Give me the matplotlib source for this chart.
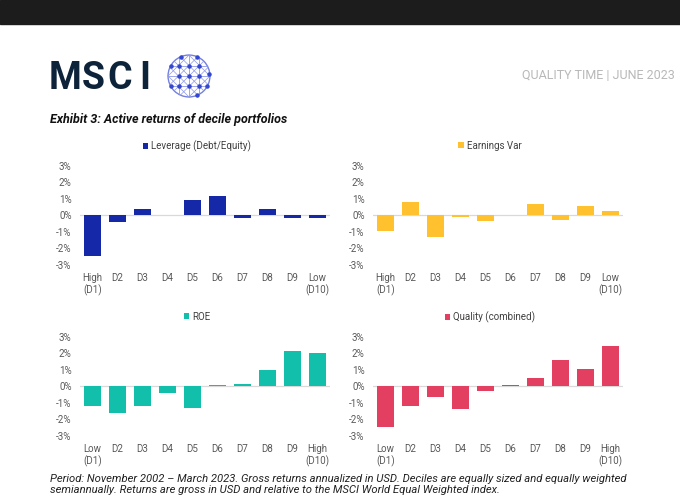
import numpy as np
import matplotlib
matplotlib.use("Agg")
import matplotlib.pyplot as plt
from matplotlib.patches import Rectangle, Circle

# decile active returns (%)
deciles_mid = ["D2", "D3", "D4", "D5", "D6", "D7", "D8", "D9"]
labels_high_low = ["High\n(D1)"] + deciles_mid + ["Low\n(D10)"]
labels_low_high = ["Low\n(D1)"] + deciles_mid + ["High\n(D10)"]

leverage = [-2.46, -0.38, 0.36, 0.0, 0.94, 1.18, -0.18, 0.36, -0.14, -0.14]
earnings_var = [-0.92, 0.82, -1.28, -0.12, -0.32, 0.0, 0.66, -0.26, 0.58, 0.24]
roe = [-1.16, -1.62, -1.20, -0.39, -1.28, 0.06, 0.16, 0.97, 2.11, 2.03]
quality = [-2.45, -1.18, -0.67, -1.34, -0.26, 0.10, 0.51, 1.60, 1.07, 2.41]

yticks = [3, 2, 1, 0, -1, -2, -3]

panels = [
    ("Leverage (Debt/Equity)", leverage, labels_high_low, "#1428A8"),
    ("Earnings Var", earnings_var, labels_high_low, "#FFC12E"),
    ("ROE", roe, labels_low_high, "#12BFAA"),
    ("Quality (combined)", quality, labels_low_high, "#E33F61"),
]

W, H = 680, 503
fig = plt.figure(figsize=(W / 100, H / 100), dpi=100)
plt.rcParams["font.family"] = ["Roboto", "DejaVu Sans"]
narrow = ["Liberation Sans Narrow", "Roboto", "DejaVu Sans"]

def fx(px):
    return px / W

def fy(py):
    return 1 - py / H

# dark bar across the top
fig.add_artist(Rectangle((0, fy(24)), 1, 24 / H, transform=fig.transFigure,
                         color="#1c1c1c", zorder=0))

# header: wide-spaced wordmark, one letter at a time
for letter, lx in zip("MSCI", [49, 82, 107, 139]):
    fig.text(fx(lx), fy(89), letter, fontsize=27, fontweight="bold",
             family=narrow, color="#0D2339", va="baseline")
fig.text(fx(675), fy(76), "QUALITY TIME | JUNE 2023", fontsize=9.0,
         family=narrow, color="#B8B8B8", ha="right", va="center")

# globe logo
gax = fig.add_axes([fx(166), fy(98), fx(46), 44 / H])
gax.set_xlim(-1.05, 1.05)
gax.set_ylim(-1.05, 1.05)
gax.set_aspect("equal")
gax.axis("off")
blue = "#3447D0"
light = "#8C97E8"
gax.add_patch(Circle((0, 0), 1, fill=False, ec="#7480E0", lw=1.0))
for k in [-0.5, 0, 0.5]:
    h = np.sqrt(1 - k ** 2)
    gax.plot([k, k], [-h, h], color=light, lw=0.6)
    gax.plot([-h, h], [k, k], color=light, lw=0.6)
xs = np.linspace(-1, 1, 200)
for c in [-1.0, -0.5, 0.0, 0.5, 1.0]:
    for sgn in [1, -1]:
        ys = sgn * xs + c
        m = xs ** 2 + ys ** 2 <= 1
        gax.plot(xs[m], ys[m], color=light, lw=0.5)
dots = [(-0.5, 0.5), (0, 0.5), (0.5, 0.5), (-0.5, 0), (0, 0), (0.5, 0),
        (-0.5, -0.5), (0, -0.5), (0.5, -0.5), (-0.85, 0.5), (0.85, -0.5),
        (-0.4, 0.9), (0.4, -0.9), (0.4, 0.9), (0.95, 0.1), (-0.85, -0.5)]
gax.scatter([d[0] for d in dots], [d[1] for d in dots], s=5, color=blue, zorder=3)

# exhibit title
fig.text(fx(50), fy(120), "Exhibit 3: Active returns of decile portfolios",
         fontsize=9, fontweight="bold", fontstyle="italic", family=narrow,
         color="#111111", va="center")

# chart panels: (left px, top px) of the plot area
boxes = [(80, 165.7), (373, 165.7), (80, 336.7), (373, 336.7)]
box_w, box_h = 250, 99.3

for (name, vals, cats, col), (lx, ty) in zip(panels, boxes):
    ax = fig.add_axes([fx(lx), fy(ty + box_h), box_w / W, box_h / H])
    x = np.arange(len(vals))
    ax.bar(x, vals, width=0.68, color=col, label=name, zorder=2)
    ax.set_xlim(-0.5, len(vals) - 0.5)
    ax.set_ylim(-3, 3)
    ax.axhline(0, color="#D9D9D9", lw=0.9, zorder=1)
    for s in ax.spines.values():
        s.set_visible(False)
    ax.set_yticks(yticks)
    ax.set_yticklabels(["%d%%" % t for t in yticks])
    ax.set_xticks(x)
    ax.set_xticklabels(cats, linespacing=1.1, va="top")
    ax.tick_params(length=0, labelsize=7, colors="#595959")
    ax.tick_params(axis="x", pad=6)
    ax.tick_params(axis="y", pad=6)
    ax.legend(loc="center", bbox_to_anchor=(0.468, 1.2), frameon=False,
              fontsize=7, handlelength=0.55, handleheight=0.55,
              handletextpad=0.3, labelcolor="#404040")

fig.text(fx(50), fy(484.5),
         "Period: November 2002 \u2013 March 2023. Gross returns annualized in USD. "
         "Deciles are equally sized and equally weighted\n"
         "semiannually. Returns are gross in USD and relative to the MSCI World "
         "Equal Weighted index.",
         fontsize=8.1, fontstyle="italic", family=narrow, color="#222222",
         va="center", linespacing=1.2)

fig.savefig("out.png", dpi=100)
